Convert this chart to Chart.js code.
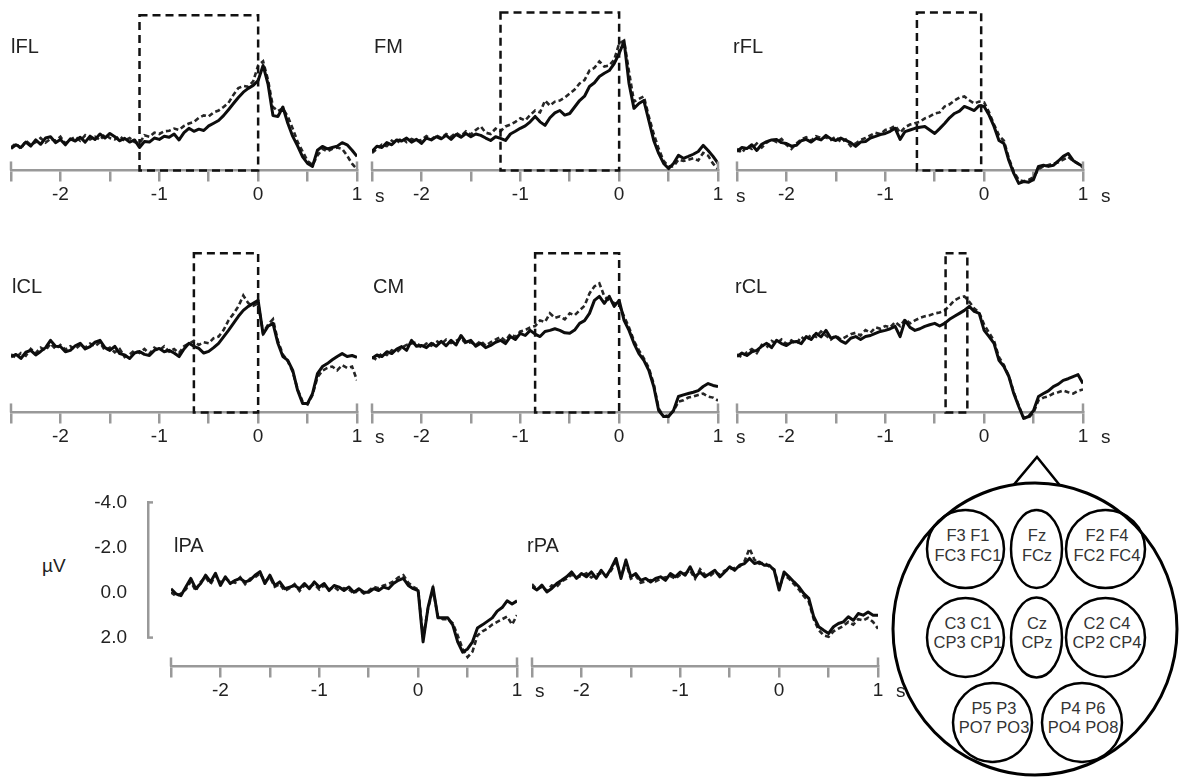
<!DOCTYPE html>
<html>
<head>
<meta charset="utf-8">
<script src="https://cdn.jsdelivr.net/npm/chart.js@4.4.1/dist/chart.umd.min.js"></script>
<style>
  html, body { margin: 0; padding: 0; background: #fff; }
  body { width: 1179px; height: 778px; position: relative; overflow: hidden;
         font-family: 'Liberation Sans', Arial, sans-serif; color: #222; }
  canvas { position: absolute; }
  .title { position: absolute; font-size: 20px; line-height: 20px; white-space: nowrap; }
  .unit { position: absolute; font-size: 19px; line-height: 19px; white-space: nowrap; }
  svg { position: absolute; left: 0; top: 0; }
</style>
</head>
<body>
<svg width="1179" height="778">
  <polyline points="1011,488 1037,457 1062,488" fill="none" stroke="#000" stroke-width="2.5"/>
  <ellipse cx="1035" cy="629" rx="142" ry="146" fill="#fff" stroke="#000" stroke-width="3"/>
  <g fill="none" stroke="#000" stroke-width="2.5">
    <ellipse cx="965.5" cy="549" rx="38.5" ry="39"/>
    <ellipse cx="1036.5" cy="549" rx="25.5" ry="39"/>
    <ellipse cx="1105.5" cy="549" rx="39.5" ry="39"/>
    <ellipse cx="965.5" cy="637.5" rx="38.5" ry="39.5"/>
    <ellipse cx="1036.5" cy="637.5" rx="25.5" ry="40"/>
    <ellipse cx="1105.5" cy="637.5" rx="39.5" ry="39.5"/>
    <ellipse cx="992.5" cy="722.5" rx="39.5" ry="39.5"/>
    <ellipse cx="1082" cy="722.5" rx="40" ry="39.5"/>
  </g>
  <g font-family="Liberation Sans, Arial, sans-serif" font-size="16.5" fill="#333" text-anchor="middle">
    <text x="968" y="541">F3 F1</text><text x="968" y="561">FC3 FC1</text>
    <text x="1037" y="541">Fz</text><text x="1037" y="561">FCz</text>
    <text x="1107" y="541">F2 F4</text><text x="1107" y="561">FC2 FC4</text>
    <text x="968" y="629">C3 C1</text><text x="968" y="648">CP3 CP1</text>
    <text x="1037" y="629">Cz</text><text x="1037" y="648">CPz</text>
    <text x="1107" y="629">C2 C4</text><text x="1107" y="648">CP2 CP4</text>
    <text x="994" y="714">P5 P3</text><text x="994" y="733">PO7 PO3</text>
    <text x="1083" y="714">P4 P6</text><text x="1083" y="733">PO4 PO8</text>
  </g>
</svg>
<div class="unit" style="left:42px; top:556px;">µV</div>

<script>
// time (s) of every sample, and the time axis marks
const times = [
  -2.5, -2.45, -2.4, -2.35, -2.3, -2.25, -2.2, -2.15, -2.1, -2.05,
  -2, -1.95, -1.9, -1.85, -1.8, -1.75, -1.7, -1.65, -1.6, -1.55,
  -1.5, -1.45, -1.4, -1.35, -1.3, -1.25, -1.2, -1.15, -1.1, -1.05,
  -1, -0.95, -0.9, -0.85, -0.8, -0.75, -0.7, -0.65, -0.6, -0.55,
  -0.5, -0.45, -0.4, -0.35, -0.3, -0.25, -0.2, -0.15, -0.1, -0.05,
  0, 0.05, 0.1, 0.15, 0.2, 0.25, 0.3, 0.35, 0.4, 0.45,
  0.5, 0.55, 0.6, 0.65, 0.7, 0.75, 0.8, 0.85, 0.9, 0.95,
  1
];
const timeTicks = [-2.5, -2, -1.5, -1, -0.5, 0, 0.5, 1];
const timeTickLabels = ['', '-2', '', '-1', '', '0', '', '1'];
const voltTicks = [-4, -2, 0, 2];
const voltTickLabels = ['-4.0', '-2.0', '0.0', '2.0'];

const panelNames = ['lFL', 'FM', 'rFL', 'lCL', 'CM', 'rCL', 'lPA', 'rPA'];

// dashed analysis windows (s), top edge in µV
const windowStart = [-1.2, -1.2, -0.68, -0.65, -0.85, -0.39];
const windowEnd = [0, 0, -0.03, 0, 0, -0.17];
const windowTop = [-3.0, -3.1, -3.1, -3.15, -3.15, -3.15];

// µV, solid and dashed condition per region
const lflSolid = [
  1.94, 1.80, 1.90, 1.70, 1.85, 1.62, 1.78, 1.55, 1.50, 1.72,
  1.60, 1.80, 1.58, 1.66, 1.52, 1.70, 1.48, 1.60, 1.40, 1.55,
  1.38, 1.50, 1.65, 1.56, 1.70, 1.62, 1.90, 1.68, 1.70, 1.55,
  1.60, 1.48, 1.52, 1.40, 1.62, 1.35, 1.19, 1.30, 1.22, 1.27,
  1.10, 1.00, 0.90, 0.72, 0.50, 0.27, 0.05, -0.15, -0.29, -0.40,
  -0.58, -1.14, -0.45, 0.72, 0.75, 0.40, 1.00, 1.49, 1.85, 2.25,
  2.49, 2.60, 2.00, 1.86, 1.95, 1.90, 1.85, 1.72, 1.80, 2.00,
  2.23
];
const lflDashed = [
  1.90, 1.75, 1.95, 1.65, 1.80, 1.70, 1.55, 1.72, 1.58, 1.65,
  1.50, 1.75, 1.62, 1.50, 1.65, 1.45, 1.60, 1.50, 1.62, 1.42,
  1.55, 1.60, 1.48, 1.65, 1.55, 1.70, 1.75, 1.45, 1.50, 1.35,
  1.40, 1.30, 1.28, 1.20, 1.25, 1.10, 1.01, 0.95, 0.80, 0.71,
  0.75, 0.60, 0.53, 0.40, 0.25, -0.05, -0.30, -0.38, -0.35, -0.55,
  -1.14, -1.29, -0.60, 0.40, 0.55, 0.45, 0.75, 1.20, 1.70, 2.05,
  2.40, 2.55, 2.20, 1.95, 2.05, 1.95, 1.90, 1.95, 2.20, 2.50,
  2.70
];
const fmSolid = [
  2.05, 1.85, 1.90, 1.72, 1.80, 1.62, 1.66, 1.55, 1.70, 1.60,
  1.75, 1.55, 1.62, 1.50, 1.58, 1.45, 1.60, 1.42, 1.52, 1.38,
  1.50, 1.40, 1.45, 1.55, 1.64, 1.50, 1.56, 1.64, 1.40, 1.30,
  1.19, 1.10, 0.95, 0.75, 0.95, 1.08, 0.80, 0.62, 0.53, 0.70,
  0.64, 0.40, 0.16, 0.00, -0.36, -0.50, -0.73, -0.85, -0.95, -1.21,
  -1.58, -2.03, -0.47, 0.45, 0.27, 0.16, 0.90, 1.64, 2.12, 2.49,
  2.68, 2.49, 2.19, 2.30, 2.23, 2.15, 2.05, 1.82, 2.01, 2.23,
  2.49
];
const fmDashed = [
  2.10, 1.95, 1.80, 1.85, 1.65, 1.75, 1.55, 1.70, 1.58, 1.66,
  1.62, 1.48, 1.60, 1.45, 1.55, 1.40, 1.50, 1.35, 1.48, 1.30,
  1.42, 1.25, 1.12, 1.35, 1.40, 1.20, 1.30, 1.12, 1.05, 0.95,
  0.82, 0.90, 0.70, 0.53, 0.60, 0.16, 0.35, 0.20, 0.16, 0.05,
  -0.10, -0.25, -0.47, -0.60, -0.95, -1.05, -1.29, -1.10, -1.14, -1.35,
  -1.95, -2.06, -0.90, 0.20, 0.10, 0.01, 0.75, 1.40, 1.95, 2.40,
  2.60, 2.60, 2.35, 2.40, 2.35, 2.30, 2.38, 2.10, 2.20, 2.50,
  2.70
];
const rflSolid = [
  2.05, 1.90, 1.94, 1.80, 2.01, 1.78, 1.68, 1.62, 1.60, 1.72,
  1.75, 1.85, 1.82, 1.65, 1.60, 1.70, 1.56, 1.62, 1.45, 1.58,
  1.64, 1.55, 1.64, 1.72, 1.86, 1.70, 1.68, 1.55, 1.49, 1.42,
  1.38, 1.30, 1.19, 1.60, 1.31, 1.25, 1.19, 1.15, 1.12, 1.25,
  1.38, 1.20, 1.01, 0.80, 0.64, 0.55, 0.38, 0.45, 0.53, 0.35,
  0.38, 0.70, 1.12, 1.64, 1.75, 2.38, 2.86, 3.23, 3.16, 3.19,
  3.08, 2.60, 2.56, 2.60, 2.56, 2.40, 2.23, 2.12, 2.38, 2.50,
  2.60
];
const rflDashed = [
  1.95, 2.10, 1.85, 1.95, 1.75, 1.90, 1.72, 1.60, 1.70, 1.58,
  1.80, 1.95, 1.75, 1.60, 1.52, 1.65, 1.48, 1.55, 1.52, 1.62,
  1.50, 1.70, 1.60, 1.85, 1.75, 1.62, 1.55, 1.45, 1.35, 1.40,
  1.25, 1.20, 1.10, 1.35, 1.15, 1.05, 1.00, 0.95, 0.82, 0.75,
  0.64, 0.60, 0.38, 0.30, 0.16, 0.05, 0.01, 0.15, 0.27, 0.20,
  0.23, 0.60, 1.05, 1.45, 1.65, 2.30, 2.80, 3.10, 3.15, 3.10,
  3.00, 2.70, 2.60, 2.55, 2.50, 2.45, 2.35, 2.25, 2.40, 2.49,
  2.65
];
const lclSolid = [
  0.69, 0.60, 0.75, 0.52, 0.45, 0.62, 0.49, 0.35, 0.08, 0.30,
  0.31, 0.50, 0.45, 0.28, 0.19, 0.40, 0.31, 0.15, 0.08, 0.35,
  0.45, 0.30, 0.57, 0.62, 0.75, 0.55, 0.49, 0.60, 0.64, 0.45,
  0.38, 0.50, 0.45, 0.55, 0.68, 0.40, 0.19, 0.30, 0.38, 0.55,
  0.49, 0.35, 0.19, -0.05, -0.29, -0.55, -0.81, -1.03, -1.18, -1.29,
  -1.40, -0.15, -0.44, -0.55, 0.19, 0.68, 0.82, 1.19, 1.94, 2.42,
  2.42, 2.05, 1.31, 1.05, 0.94, 0.80, 0.68, 0.57, 0.68, 0.64,
  0.71
];
const lclDashed = [
  0.60, 0.72, 0.55, 0.65, 0.40, 0.55, 0.35, 0.45, 0.20, 0.40,
  0.25, 0.42, 0.30, 0.40, 0.25, 0.35, 0.20, 0.30, 0.15, 0.45,
  0.35, 0.52, 0.40, 0.70, 0.60, 0.45, 0.55, 0.40, 0.58, 0.35,
  0.45, 0.30, 0.50, 0.40, 0.55, 0.30, 0.20, 0.10, 0.25, 0.15,
  0.19, 0.00, -0.06, -0.30, -0.66, -0.90, -1.18, -1.58, -1.30, -1.20,
  -1.29, -0.20, -0.50, -0.70, 0.10, 0.60, 0.85, 1.25, 1.90, 2.35,
  2.45, 2.10, 1.45, 1.20, 1.10, 1.05, 1.19, 1.00, 1.10, 1.05,
  1.56
];
const cmSolid = [
  0.75, 0.62, 0.68, 0.50, 0.57, 0.40, 0.31, 0.45, 0.08, 0.30,
  0.27, 0.35, 0.19, 0.30, 0.12, 0.28, 0.08, 0.25, -0.10, 0.15,
  0.08, 0.30, 0.19, 0.35, 0.27, 0.15, 0.08, 0.20, -0.06, 0.05,
  -0.18, -0.10, -0.29, -0.15, -0.06, -0.25, -0.29, -0.35, -0.29, -0.20,
  -0.18, -0.30, -0.55, -0.65, -0.92, -1.40, -1.55, -1.29, -1.55, -1.18,
  -1.40, -0.66, -0.29, 0.19, 0.57, 0.82, 1.19, 1.79, 2.68, 2.90,
  2.90, 2.68, 2.16, 2.10, 2.05, 2.00, 1.94, 1.79, 1.68, 1.75,
  1.79
];
const cmDashed = [
  0.70, 0.80, 0.55, 0.62, 0.45, 0.52, 0.35, 0.25, 0.20, 0.15,
  0.35, 0.20, 0.28, 0.10, 0.22, 0.05, 0.18, 0.10, 0.00, 0.20,
  0.15, 0.25, 0.10, 0.28, 0.15, 0.05, -0.05, 0.10, -0.15, -0.05,
  -0.25, -0.30, -0.40, -0.45, -0.66, -0.60, -0.92, -0.75, -0.81, -0.70,
  -0.92, -0.85, -1.03, -1.20, -1.66, -1.92, -2.03, -1.55, -1.40, -1.30,
  -1.25, -0.80, -0.40, 0.10, 0.45, 0.75, 1.10, 1.70, 2.60, 2.90,
  2.85, 2.70, 2.35, 2.30, 2.20, 2.16, 2.10, 2.05, 2.16, 2.20,
  2.31
];
const rclSolid = [
  0.68, 0.55, 0.64, 0.50, 0.45, 0.30, 0.19, 0.35, 0.08, 0.20,
  0.27, 0.15, 0.12, 0.20, -0.06, 0.05, -0.18, -0.05, -0.29, 0.00,
  -0.06, 0.10, 0.19, 0.00, -0.06, 0.05, -0.06, -0.10, -0.18, -0.25,
  -0.29, -0.35, -0.44, -0.06, -0.66, -0.40, -0.29, -0.35, -0.44, -0.50,
  -0.55, -0.45, -0.55, -0.70, -0.81, -0.92, -1.03, -1.18, -0.99, -0.92,
  -0.29, -0.06, 0.19, 0.82, 1.05, 1.42, 2.05, 2.53, 2.97, 2.90,
  2.68, 2.16, 2.05, 1.95, 1.79, 1.70, 1.56, 1.50, 1.42, 1.35,
  1.68
];
const rclDashed = [
  0.60, 0.70, 0.52, 0.40, 0.55, 0.25, 0.35, 0.10, 0.20, 0.05,
  0.22, 0.08, 0.20, -0.05, 0.10, -0.15, -0.05, -0.25, -0.10, 0.05,
  -0.10, 0.05, -0.05, -0.15, -0.20, -0.10, -0.30, -0.20, -0.40, -0.35,
  -0.45, -0.40, -0.60, -0.45, -0.70, -0.55, -0.66, -0.75, -0.81, -0.85,
  -0.92, -0.95, -1.03, -1.20, -1.40, -1.50, -1.55, -1.35, -1.10, -0.95,
  -0.50, -0.20, 0.10, 0.70, 1.00, 1.40, 2.00, 2.50, 2.95, 2.95,
  2.75, 2.30, 2.20, 2.15, 2.05, 2.00, 1.94, 2.00, 2.05, 1.95,
  1.90
];
const lpaSolid = [
  -0.13, 0.06, 0.13, -0.19, -0.51, -0.13, -0.32, -0.63, -0.38, -0.70,
  -0.25, -0.57, -0.32, -0.44, -0.51, -0.38, -0.44, -0.63, -0.76, -0.32,
  -0.63, -0.25, -0.38, -0.13, -0.19, -0.25, -0.13, -0.32, -0.13, -0.38,
  -0.19, -0.32, -0.06, -0.25, -0.19, -0.06, -0.19, 0.00, -0.13, 0.00,
  0.00, -0.13, -0.06, -0.19, -0.13, -0.32, -0.44, -0.51, -0.25, -0.13,
  -0.06, 1.84, 0.57, -0.19, 0.95, 0.95, 0.95, 1.21, 1.84, 2.22,
  2.10, 1.84, 1.33, 1.21, 1.08, 0.95, 0.70, 0.57, 0.32, 0.44,
  0.32
];
const lpaDashed = [
  0.00, 0.15, 0.05, -0.10, -0.40, -0.05, -0.38, -0.55, -0.30, -0.62,
  -0.35, -0.50, -0.40, -0.35, -0.55, -0.30, -0.50, -0.55, -0.70, -0.40,
  -0.55, -0.20, -0.30, -0.05, -0.15, -0.30, -0.05, -0.25, -0.20, -0.30,
  -0.10, -0.25, -0.10, -0.20, -0.05, -0.15, -0.10, 0.05, -0.10, 0.05,
  -0.05, -0.20, -0.15, -0.25, -0.30, -0.40, -0.55, -0.63, -0.35, -0.20,
  -0.10, 1.70, 0.60, -0.10, 0.90, 1.00, 1.00, 1.15, 1.60, 2.10,
  2.40, 2.20, 1.60, 1.45, 1.35, 1.20, 1.10, 1.00, 0.90, 1.20,
  0.85
];
const rpaSolid = [
  -0.20, -0.08, -0.26, -0.01, -0.14, -0.32, -0.44, -0.57, -0.75, -0.51,
  -0.69, -0.57, -0.75, -0.51, -0.81, -0.57, -0.88, -1.25, -0.51, -1.19,
  -0.57, -0.69, -0.44, -0.51, -0.38, -0.51, -0.57, -0.44, -0.69, -0.57,
  -0.75, -0.63, -0.94, -0.57, -0.75, -0.57, -0.69, -0.81, -0.57, -0.75,
  -0.94, -0.81, -1.00, -1.06, -1.25, -1.06, -1.12, -1.00, -1.00, -0.81,
  -0.08, -0.75, -0.57, -0.38, -0.20, 0.05, 0.23, 0.91, 1.28, 1.41,
  1.53, 1.28, 1.16, 1.10, 0.91, 1.04, 0.79, 0.85, 0.73, 0.85,
  0.85
];
const rpaDashed = [
  -0.30, -0.10, -0.20, -0.05, -0.25, -0.20, -0.40, -0.50, -0.65, -0.55,
  -0.60, -0.70, -0.55, -0.65, -0.70, -0.60, -0.80, -1.15, -0.60, -1.10,
  -0.50, -0.60, -0.35, -0.40, -0.45, -0.40, -0.50, -0.55, -0.60, -0.50,
  -0.65, -0.70, -0.80, -0.50, -0.85, -0.65, -0.60, -0.75, -0.65, -0.80,
  -0.85, -0.90, -0.95, -1.15, -1.62, -1.20, -1.05, -1.10, -0.95, -0.85,
  -0.15, -0.65, -0.50, -0.30, -0.10, 0.15, 0.35, 1.00, 1.40, 1.60,
  1.65, 1.45, 1.35, 1.25, 1.10, 1.20, 1.00, 1.05, 0.95, 1.10,
  1.35
];

const traces = [
  [lflSolid, lflDashed], [fmSolid, fmDashed], [rflSolid, rflDashed],
  [lclSolid, lclDashed], [cmSolid, cmDashed], [rclSolid, rclDashed],
  [lpaSolid, lpaDashed], [rpaSolid, rpaDashed]
];

// ---- layout ----
const AXIS_AT = 2.75;          // µV level where each time axis is drawn
const AXIS_GREY = '#999999';
const FONT = "'Liberation Sans', Arial, sans-serif";
Chart.defaults.font.family = FONT;
Chart.defaults.color = '#222';

// canvas left/top for each panel (380x240, chart area 346 x 194.4)
const panelPos = [
  [1, -10.7], [362, -10.7], [727, -10.7],
  [1, 230.85], [362, 230.85], [727, 230.85],
  [161, 484.55], [522, 484.55]
];
const titlePos = [
  [11, 35.6], [374, 35.6], [733, 35.6],
  [12, 275.6], [373, 275.6], [735, 275.6],
  [174, 535], [527, 535]
];

const panelDecor = {
  id: 'panelDecor',
  afterDraw(chart, args, opts) {
    const ctx = chart.ctx;
    const x = chart.scales.x, y = chart.scales.y;
    const ay = y.getPixelForValue(AXIS_AT);
    ctx.save();
    // end ticks reach above the axis
    ctx.strokeStyle = AXIS_GREY;
    ctx.lineWidth = 2.5;
    [x.min, x.max].forEach(v => {
      const px = x.getPixelForValue(v);
      ctx.beginPath();
      ctx.moveTo(px, ay - 9);
      ctx.lineTo(px, ay);
      ctx.stroke();
    });
    if (opts.win) {
      const l = x.getPixelForValue(opts.win[0]);
      const r = x.getPixelForValue(opts.win[1]);
      const t = y.getPixelForValue(opts.win[2]);
      ctx.setLineDash([8, 5]);
      ctx.strokeStyle = '#111';
      ctx.lineWidth = 2.5;
      ctx.strokeRect(l, t, r - l, ay - t);
    }
    ctx.restore();
  }
};

function addDiv(cls, text, left, top) {
  const d = document.createElement('div');
  d.className = cls;
  d.textContent = text;
  d.style.left = left + 'px';
  d.style.top = top + 'px';
  document.body.appendChild(d);
}

function pts(vals) {
  return times.map((t, i) => ({ x: t, y: vals[i] }));
}

panelNames.forEach((name, k) => {
  const [L, T] = panelPos[k];
  const cv = document.createElement('canvas');
  cv.width = 380;
  cv.height = 240;
  cv.style.left = L + 'px';
  cv.style.top = T + 'px';
  document.body.appendChild(cv);

  const win = k < windowStart.length ? [windowStart[k], windowEnd[k], windowTop[k]] : false;

  new Chart(cv, {
    type: 'line',
    data: {
      datasets: [
        {
          data: pts(traces[k][0]),
          borderColor: '#0d0d0d',
          borderWidth: 3,
          pointRadius: 0,
          tension: 0,
          borderJoinStyle: 'round'
        },
        {
          data: pts(traces[k][1]),
          borderColor: '#262626',
          borderWidth: 2.6,
          borderDash: [5, 3],
          pointRadius: 0,
          tension: 0
        }
      ]
    },
    options: {
      responsive: false,
      animation: false,
      devicePixelRatio: 1,
      layout: { padding: { left: 10, right: 24, top: 10, bottom: 35.6 } },
      plugins: {
        legend: { display: false },
        tooltip: { enabled: false },
        panelDecor: { win: win }
      },
      scales: {
        x: {
          type: 'linear',
          min: -2.5,
          max: 1,
          position: { y: AXIS_AT },
          afterBuildTicks: s => { s.ticks = timeTicks.map(v => ({ value: v })); },
          ticks: {
            autoSkip: false,
            maxRotation: 0,
            padding: 3,
            color: '#222',
            font: { size: 19 },
            callback: (v, i) => timeTickLabels[i]
          },
          grid: { drawOnChartArea: false, tickLength: 10, color: AXIS_GREY, lineWidth: 2.5 },
          border: { color: AXIS_GREY, width: 2.5 }
        },
        y: { display: false, reverse: true, min: -3.6, max: 3.6 }
      }
    },
    plugins: [panelDecor]
  });

  addDiv('title', name, titlePos[k][0], titlePos[k][1]);
  addDiv('unit', 's', L + 374, T + 196.5);
});

// voltage scale bar
const scaleCaps = {
  id: 'scaleCaps',
  afterDraw(chart) {
    const ctx = chart.ctx, y = chart.scales.y;
    const bx = chart.chartArea.left;
    ctx.save();
    ctx.strokeStyle = AXIS_GREY;
    ctx.lineWidth = 2.5;
    [y.min, y.max].forEach(v => {
      const py = y.getPixelForValue(v);
      ctx.beginPath();
      ctx.moveTo(bx - 1, py);
      ctx.lineTo(bx + 5, py);
      ctx.stroke();
    });
    ctx.restore();
  }
};
const sc = document.createElement('canvas');
sc.width = 160;
sc.height = 200;
sc.style.left = '0px';
sc.style.top = '470px';
document.body.appendChild(sc);
new Chart(sc, {
  type: 'line',
  data: { datasets: [] },
  options: {
    responsive: false,
    animation: false,
    devicePixelRatio: 1,
    layout: { padding: { left: 0, right: 0, top: 13.75, bottom: 24.25 } },
    plugins: { legend: { display: false }, tooltip: { enabled: false } },
    scales: {
      x: { display: false },
      y: {
        reverse: true,
        min: -4,
        max: 2,
        afterFit: s => { s.width = 148; },
        afterBuildTicks: s => { s.ticks = voltTicks.map(v => ({ value: v })); },
        ticks: { padding: 21, color: '#222', font: { size: 19 }, callback: (v, i) => voltTickLabels[i] },
        grid: { drawOnChartArea: false, drawTicks: false },
        border: { color: AXIS_GREY, width: 2.5 }
      }
    }
  },
  plugins: [scaleCaps]
});
</script>
</body>
</html>
